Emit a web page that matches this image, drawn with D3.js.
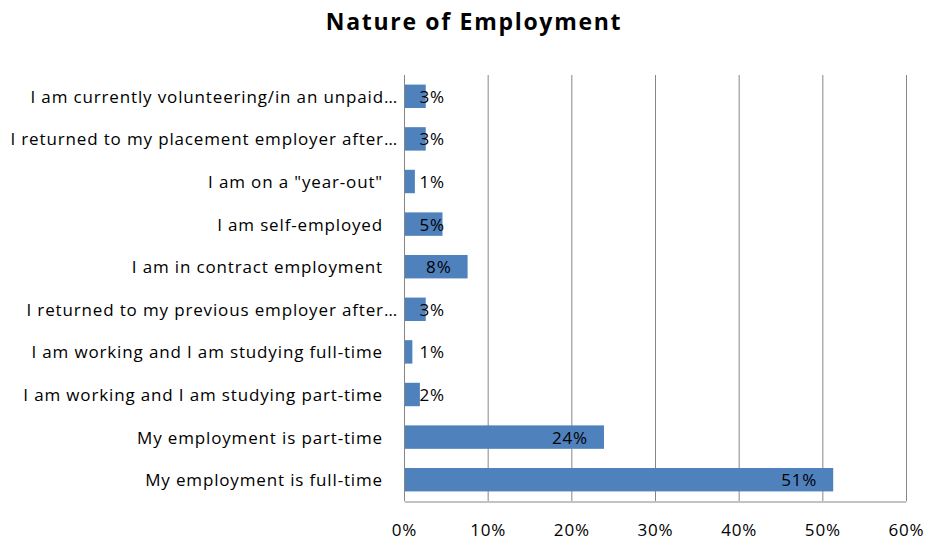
<!DOCTYPE html>
<html>
<head>
<meta charset="utf-8">
<script src="https://cdn.jsdelivr.net/npm/d3@7"></script>
<style>
  body { margin: 0; background: #fff; }
  svg { display: block; font-family: "Open Sans", sans-serif; }
</style>
</head>
<body>
<svg id="chart" width="928" height="540"></svg>
<script>
// Categories, top to bottom as drawn
const categories = [
  'I am currently volunteering/in an unpaid…',
  'I returned to my placement employer after…',
  'I am on a "year-out"',
  'I am self-employed',
  'I am in contract employment',
  'I returned to my previous employer after…',
  'I am working and I am studying full-time',
  'I am working and I am studying part-time',
  'My employment is part-time',
  'My employment is full-time'
];
// Share of respondents (%)
const values = [2.6, 2.6, 1.3, 4.6, 7.6, 2.6, 1.0, 1.9, 23.9, 51.3];
const xTicks = [0, 10, 20, 30, 40, 50, 60];

const width = 928, height = 540;
const margin = { top: 75, right: 22, bottom: 39, left: 404 };
const labelSize = '17px';
const labelSpacing = '0.85px';

const svg = d3.select('#chart');

// Scales
const x = d3.scaleLinear()
    .domain([0, 60])
    .range([margin.left, width - margin.right]);

const y = d3.scaleBand()
    .domain(categories)
    .range([margin.top, height - margin.bottom])
    .paddingInner(0.45)
    .paddingOuter(0.225);

// Title
svg.append('text')
    .attr('x', 474)
    .attr('y', 30)
    .attr('text-anchor', 'middle')
    .style('font-size', '23px')
    .style('font-weight', 'bold')
    .style('letter-spacing', '1.7px')
    .text('Nature of Employment');

// Vertical gridlines
svg.append('g')
    .selectAll('line')
    .data(xTicks)
    .join('line')
    .attr('x1', d => x(d) + 0.5)
    .attr('x2', d => x(d) + 0.5)
    .attr('y1', margin.top)
    .attr('y2', height - margin.bottom)
    .attr('stroke', '#868686')
    .attr('stroke-width', 1);

// Bottom axis (line and tick labels)
const xAxis = d3.axisBottom(x)
    .tickValues(xTicks)
    .tickFormat(d => d + '%')
    .tickSize(0)
    .tickPadding(22);

const gx = svg.append('g')
    .attr('transform', `translate(0,${height - margin.bottom + 0.5})`)
    .call(xAxis);
gx.select('.domain').attr('stroke', '#868686');
gx.selectAll('text')
    .style('font-size', labelSize)
    .style('letter-spacing', labelSpacing)
    .style('font-family', '"Open Sans", sans-serif')
    .attr('fill', '#000');

// Bars
svg.append('g')
    .selectAll('rect')
    .data(values)
    .join('rect')
    .attr('x', x(0) + 1)
    .attr('y', (d, i) => y(categories[i]))
    .attr('width', d => x(d) - x(0) - 1)
    .attr('height', y.bandwidth())
    .attr('fill', '#4f81bd');

// Data labels (inside end, pushed right when bar is short)
svg.append('g')
    .selectAll('text')
    .data(values)
    .join('text')
    .attr('x', d => Math.max(x(d) - 16, x(0) + 41))
    .attr('y', (d, i) => y(categories[i]) + y.bandwidth() / 2)
    .attr('dy', '0.38em')
    .attr('text-anchor', 'end')
    .style('font-size', labelSize)
    .style('letter-spacing', labelSpacing)
    .text(d => Math.round(d) + '%');

// Category labels
svg.append('g')
    .selectAll('text')
    .data(categories)
    .join('text')
    .attr('x', d => d.endsWith('…') ? 398 : 383)
    .attr('y', d => y(d) + y.bandwidth() / 2)
    .attr('dy', '0.38em')
    .attr('text-anchor', 'end')
    .style('font-size', labelSize)
    .style('letter-spacing', labelSpacing)
    .text(d => d);
</script>
</body>
</html>
